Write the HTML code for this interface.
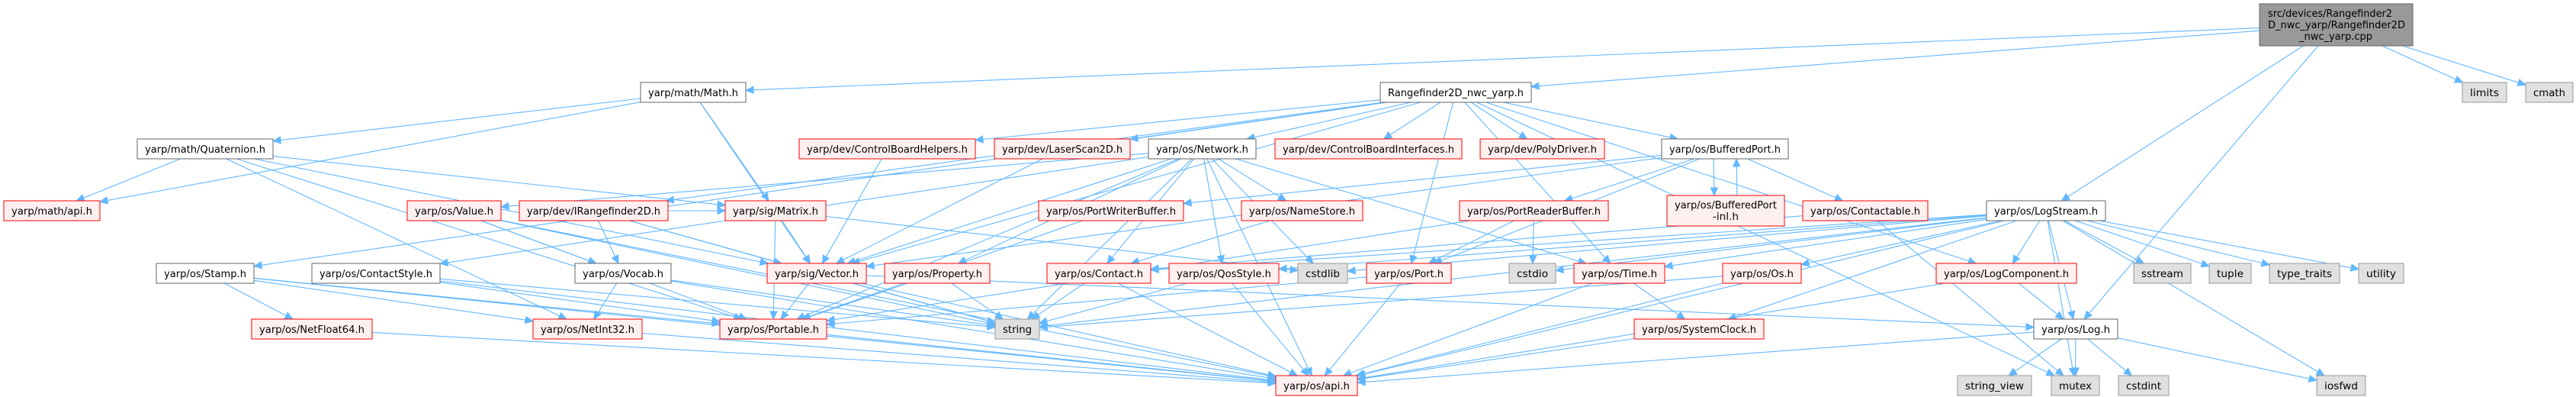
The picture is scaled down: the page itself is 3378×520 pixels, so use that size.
<!DOCTYPE html>
<html><head><meta charset="utf-8"><style>
html,body{margin:0;padding:0;background:#fff;}
svg{display:block;}
text{font-family:"DejaVu Sans","Liberation Sans",sans-serif;font-size:13px;fill:#000;}
</style></head><body>
<svg id="g" width="3378" height="520" xmlns="http://www.w3.org/2000/svg">
<g id="edges" fill="none" stroke="#63b8ff" stroke-width="1.1"></g>
<g id="arrows" fill="#63b8ff" stroke="#63b8ff"></g>
<g id="nodes">
<rect x="2963" y="5" width="201" height="55" fill="#999" stroke="#666"/>
<text x="2974" y="22" textLength="163" lengthAdjust="spacingAndGlyphs">src/devices/Rangefinder2</text>
<text x="2974" y="37" textLength="180" lengthAdjust="spacingAndGlyphs">D_nwc_yarp/Rangefinder2D</text>
<text x="3015" y="52" textLength="96" lengthAdjust="spacingAndGlyphs">_nwc_yarp.cpp</text>
<rect x="2186" y="256" width="154" height="40" fill="#fff0f0" stroke="#f00"/>
<text x="2196" y="273" textLength="134" lengthAdjust="spacingAndGlyphs">yarp/os/BufferedPort</text>
<text x="2246" y="288" textLength="34" lengthAdjust="spacingAndGlyphs">-inl.h</text>
</g>
</svg>
<script>
var N={
root:[2963,5,201,55,'r',''],
math:[840,108,138,26,'w','yarp/math/Math.h'],
rf:[1810,108,198,26,'w','Rangefinder2D_nwc_yarp.h'],
limits:[3229,108,58,26,'g','limits'],
cmath:[3312,108,62,26,'g','cmath'],
quat:[180,182,178,26,'w','yarp/math/Quaternion.h'],
cbh:[1048,182,231,26,'p','yarp/dev/ControlBoardHelpers.h'],
laser:[1304,182,178,26,'p','yarp/dev/LaserScan2D.h'],
net:[1506,182,141,26,'w','yarp/os/Network.h'],
cbi:[1672,182,245,26,'p','yarp/dev/ControlBoardInterfaces.h'],
poly:[1941,182,163,26,'p','yarp/dev/PolyDriver.h'],
bp:[2179,182,166,26,'w','yarp/os/BufferedPort.h'],
mapi:[5,263,126,26,'p','yarp/math/api.h'],
value:[534,263,123,26,'p','yarp/os/Value.h'],
irf:[681,263,195,26,'p','yarp/dev/IRangefinder2D.h'],
matrix:[951,263,132,26,'p','yarp/sig/Matrix.h'],
pwb:[1362,263,190,26,'p','yarp/os/PortWriterBuffer.h'],
ns:[1628,263,159,26,'p','yarp/os/NameStore.h'],
prb:[1914,263,195,26,'p','yarp/os/PortReaderBuffer.h'],
bpi:[2186,256,154,40,'x',''],
ctb:[2364,263,164,26,'p','yarp/os/Contactable.h'],
ls:[2605,263,156,26,'w','yarp/os/LogStream.h'],
stamp:[205,345,128,26,'w','yarp/os/Stamp.h'],
cs:[409,345,168,26,'w','yarp/os/ContactStyle.h'],
vocab:[754,345,126,26,'w','yarp/os/Vocab.h'],
vector:[1006,345,130,26,'p','yarp/sig/Vector.h'],
prop:[1160,345,138,26,'p','yarp/os/Property.h'],
contact:[1373,345,136,26,'p','yarp/os/Contact.h'],
qos:[1533,345,144,26,'p','yarp/os/QosStyle.h'],
cstdlib:[1702,345,65,26,'g','cstdlib'],
port:[1792,345,111,26,'p','yarp/os/Port.h'],
cstdio:[1979,345,61,26,'g','cstdio'],
time:[2064,345,119,26,'p','yarp/os/Time.h'],
os:[2259,345,103,26,'p','yarp/os/Os.h'],
lc:[2539,345,184,26,'p','yarp/os/LogComponent.h'],
sstream:[2798,345,75,26,'g','sstream'],
tuple:[2897,345,55,26,'g','tuple'],
tt:[2976,345,92,26,'g','type_traits'],
util:[3093,345,59,26,'g','utility'],
nf64:[330,418,158,26,'p','yarp/os/NetFloat64.h'],
ni32:[699,418,143,26,'p','yarp/os/NetInt32.h'],
portable:[944,418,140,26,'p','yarp/os/Portable.h'],
string:[1305,418,58,26,'g','string'],
sc:[2143,418,170,26,'p','yarp/os/SystemClock.h'],
log:[2667,418,110,26,'w','yarp/os/Log.h'],
api:[1673,492,107,26,'p','yarp/os/api.h'],
sv:[2567,492,97,26,'g','string_view'],
mutex:[2690,492,63,26,'g','mutex'],
cstdint:[2778,492,66,26,'g','cstdint'],
iosfwd:[3038,492,64,26,'g','iosfwd']
};
var E=[['root','math'],['root','rf'],['root','ls'],['root','log'],['root','limits'],['root','cmath'],
['math','mapi'],['math','quat'],['math','matrix'],['math','vector'],
['quat','mapi'],['quat','portable'],['quat','ni32'],['quat','matrix'],['quat','vector'],
['rf','cbh'],['rf','laser'],['rf','net'],['rf','cbi'],['rf','poly'],['rf','bp'],['rf','irf'],['rf','stamp'],['rf','port'],['rf','lc'],['rf','time'],['rf','mutex'],['rf','vector'],
['net','cs'],['net','value'],['net','prop'],['net','vector'],['net','ns'],['net','contact'],['net','qos'],['net','time'],['net','portable'],['net','string'],['net','api'],['net','cstdlib'],
['cbh','vector'],['laser','vector'],
['irf','vocab'],['irf','vector'],['irf','string'],['irf','matrix'],
['value','vocab'],['value','portable'],['value','string'],['value','api'],
['matrix','vector'],['matrix','portable'],['matrix','cstdlib'],
['vector','portable'],['vector','string'],['vector','api'],['vector','log'],
['prop','portable'],['prop','string'],['contact','string'],['contact','api'],
['qos','string'],['qos','api'],['ns','contact'],['pwb','portable'],
['bp','prb'],['bp','bpi'],['bpi','bp'],['bp','ctb'],['bp','pwb'],['bp','port'],['bp','vector'],
['prb','port'],['prb','cstdio'],['prb','portable'],['ctb','contact'],['ctb','mutex'],
['port','api'],['port','portable'],['time','sc'],['time','api'],['os','api'],['os','string'],['sc','api'],
['ls','lc'],['ls','log'],['ls','sstream'],['ls','tuple'],['ls','tt'],['ls','util'],['ls','iosfwd'],['ls','time'],['ls','os'],['ls','cstdio'],['ls','cstdlib'],['ls','contact'],['ls','sc'],['ls','api'],['ls','string'],['ls','mutex'],['ls','qos'],
['lc','log'],['lc','api'],['log','sv'],['log','mutex'],['log','cstdint'],['log','iosfwd'],['log','api'],
['stamp','nf64'],['stamp','ni32'],['stamp','portable'],['stamp','api'],
['cs','string'],['cs','api'],['cs','portable'],['vocab','ni32'],['vocab','string'],['vocab','api'],
['nf64','api'],['ni32','api'],['portable','api']];
var NS='http://www.w3.org/2000/svg';
var eg=document.getElementById('edges'),ag=document.getElementById('arrows'),ng=document.getElementById('nodes');
function el(t,a,p){var e=document.createElementNS(NS,t);for(var k in a)e.setAttribute(k,a[k]);p.appendChild(e);return e;}
for(var k in N){var n=N[k];if(n[4]=='r'||n[4]=='x')continue;
var f={w:'#fff',p:'#fff0f0',g:'#e0e0e0'}[n[4]],s={w:'#666',p:'#f00',g:'#999'}[n[4]];
el('rect',{x:n[0],y:n[1],width:n[2],height:n[3],fill:f,stroke:s},ng);
var t=el('text',{x:n[0]+10,y:n[1]+18,textLength:n[2]-20,lengthAdjust:'spacingAndGlyphs'},ng);t.textContent=n[5];}
function clip(n,x,y,dx,dy){var cx=n[0]+n[2]/2,cy=n[1]+n[3]/2,hw=n[2]/2,hh=n[3]/2;
var tx=dx?hw/Math.abs(dx):1e9,ty=dy?hh/Math.abs(dy):1e9,t=Math.min(tx,ty);return [cx+dx*t,cy+dy*t];}
E.forEach(function(e){var a=N[e[0]],b=N[e[1]];
var ax=a[0]+a[2]/2,ay=a[1]+a[3]/2,bx=b[0]+b[2]/2,by=b[1]+b[3]/2;
if(e[0]=='bp'&&e[1]=='bpi'){ax-=15;bx-=15;}if(e[0]=='bpi'){ax+=15;bx+=15;}
var dx=bx-ax,dy=by-ay;
var p=clip(a,ax,ay,dx,dy),q=clip(b,bx,by,-dx,-dy);
if(e[0]=='bp'&&e[1]=='bpi'){p=[ax,208];q=[bx,256];}
if(e[0]=='bpi'){p=[ax,256];q=[bx,208];}
var L=Math.hypot(q[0]-p[0],q[1]-p[1]),ux=(q[0]-p[0])/L,uy=(q[1]-p[1])/L;
var ex=q[0]-ux*10,ey=q[1]-uy*10;
el('path',{d:'M'+p[0].toFixed(1)+','+p[1].toFixed(1)+'L'+ex.toFixed(1)+','+ey.toFixed(1)},eg);
var px=-uy*4.5,py=ux*4.5;
el('polygon',{points:q[0]+','+q[1]+' '+(ex+px)+','+(ey+py)+' '+(ex-px)+','+(ey-py)},ag);});
</script>
</body></html>
